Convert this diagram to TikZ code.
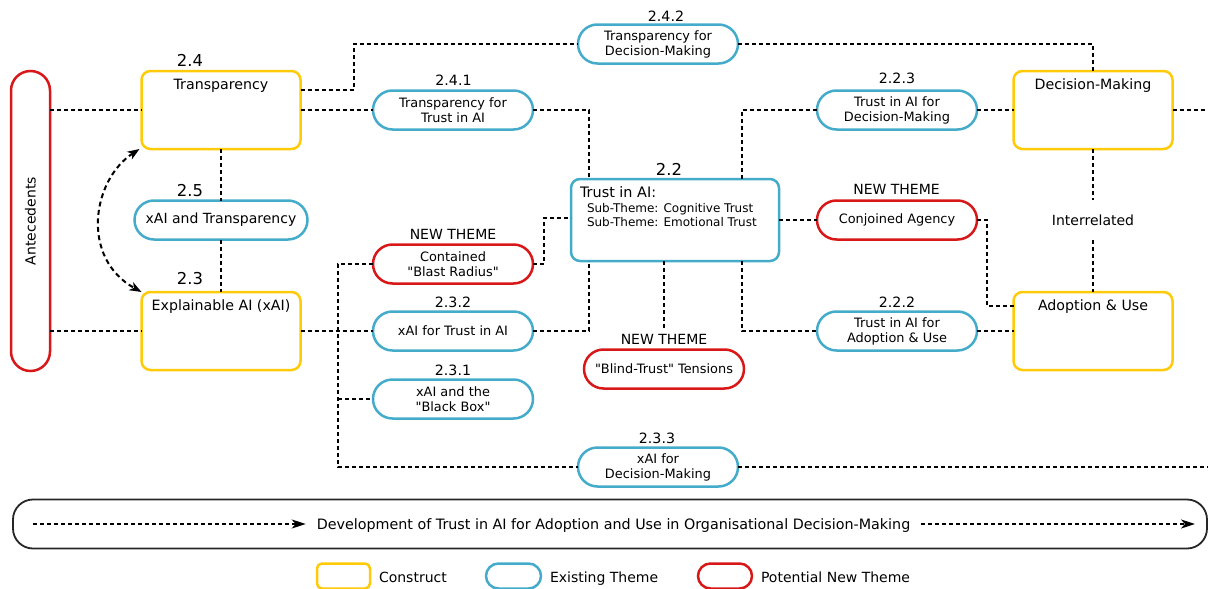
\documentclass[tikz,border=0pt]{standalone}
\usepackage{fontspec}
\setmainfont{DejaVu Sans}[Ligatures=TeXOff]
\usetikzlibrary{arrows.meta,calc}
\definecolor{cyellow}{RGB}{255,202,8}
\definecolor{cblue}{RGB}{68,172,202}
\definecolor{cred}{RGB}{216,24,24}
\begin{document}
\begin{tikzpicture}[x=1pt,y=-1pt,
  every node/.style={inner sep=0pt, outer sep=0pt},
  tag/.style={font=\fontsize{14}{16.8}\selectfont},
  secnum/.style={font=\fontsize{16.4}{19}\selectfont},
  subnum/.style={font=\fontsize{14.2}{17}\selectfont},
  construct/.style={draw=cyellow, line width=2.5pt, rounded corners=9pt,
    minimum width=159pt, minimum height=78pt},
  ctitle/.style={anchor=base, yshift=-18.5pt, font=\fontsize{14.2}{17}\selectfont},
  pill/.style={line width=2.5pt, rounded corners=19.5pt, minimum width=160pt,
    minimum height=39pt, align=center, font=\fontsize{12.9}{15}\selectfont},
  theme/.style={pill, draw=cblue},
  newtheme/.style={pill, draw=cred},
  subtxt/.style={anchor=base west, xshift=16pt, font=\fontsize{12}{14}\selectfont},
  legtxt/.style={anchor=base west, xshift=9pt, yshift=-6.7pt, tag},
  link/.style={line width=2pt, dash pattern=on 4pt off 3pt},
  tip/.style={-{Stealth[length=14pt,width=9pt,inset=4pt]}},
]
\useasboundingbox (0,0) rectangle (1208,589);

% constructs
\node[draw=cred, line width=2.5pt, rounded corners=19.5pt, minimum width=39pt,
  minimum height=300pt, label={[rotate=90, tag]center:Antecedents}] (ante) at (30.5,221) {};
\node[construct, label={[ctitle]north:Transparency}] (trans) at (221,110) {};
\node[construct, label={[ctitle]north:{Explainable AI (xAI)}}] (xai) at (221,331) {};
\node[construct, label={[ctitle]north:Decision-Making}] (dm) at (1093,110) {};
\node[construct, label={[ctitle]north:{Adoption \& Use}}] (adopt) at (1093,331) {};

% central theme
\node[draw=cblue, line width=2.5pt, rounded corners=9pt, minimum width=208pt, minimum height=82pt,
  label={[anchor=base west, xshift=9pt, yshift=-18pt, font=\fontsize{14.4}{17}\selectfont]north west:{Trust in AI:}},
  label={[subtxt, yshift=-33pt]north west:{Sub-Theme: Cognitive Trust}},
  label={[subtxt, yshift=-47pt]north west:{Sub-Theme: Emotional Trust}}] (trust) at (675,220) {};

% themes
\node[theme, minimum width=173pt, font=\fontsize{14}{16.8}\selectfont] (p25) at (221,220) {xAI and Transparency};
\node[theme] (p241) at (453,110) {Transparency for\\Trust in AI};
\node[theme] (p242) at (658,44) {Transparency for\\Decision-Making};
\node[theme] (p223) at (897,110) {Trust in AI for\\Decision-Making};
\node[newtheme] (conj) at (897,220) {Conjoined Agency};
\node[theme] (p222) at (897,331) {Trust in AI for\\Adoption \& Use};
\node[newtheme] (blast) at (453,264) {Contained\\"Blast Radius"};
\node[theme] (p232) at (453,331) {xAI for Trust in AI};
\node[theme] (p231) at (453,399) {xAI and the\\"Black Box"};
\node[newtheme] (blind) at (664,369) {"Blind-Trust" Tensions};
\node[theme] (p233) at (658,467) {xAI for\\Decision-Making};

% section numbers and tags
\node[secnum] (n24) at (190,60) {2.4};
\node[secnum] (n25) at (190,190.5) {2.5};
\node[secnum] (n23) at (190,278.5) {2.3};
\node[secnum] (n22) at (669,169) {2.2};
\node[subnum] (n242) at (666,16) {2.4.2};
\node[subnum] (n241) at (453.5,80) {2.4.1};
\node[subnum] (n223) at (897,78.5) {2.2.3};
\node[subnum] (n222) at (897,302) {2.2.2};
\node[subnum] (n232) at (453,302) {2.3.2};
\node[subnum] (n231) at (453,370) {2.3.1};
\node[subnum] (n233) at (657,438) {2.3.3};
\node[tag] (nconj) at (896.5,189.5) {NEW THEME};
\node[tag] (nblast) at (453,234.5) {NEW THEME};
\node[tag, inner ysep=5pt] (nblind) at (664,339.5) {NEW THEME};
\node[tag, inner ysep=15pt] (ninter) at (1093,220) {Interrelated};

% free ends at the right edge
\coordinate (eR1) at (1208,110);
\coordinate (eR2) at (1208,467);

% connectors
\draw[link] (ante.east |- trans.west) -- (trans.west);
\draw[link] (ante.east |- xai.west) -- (xai.west);
\draw[link] ([yshift=20pt]trans.east) -- ++(53,0) |- (p242.west);
\draw[link] (p242.east) -| (dm.north);
\draw[link] (trans.east |- p241.west) -- (p241.west);
\draw[link] (p241.east) -| ($(trust.north west)+(18,0)$);
\draw[link] ($(trust.north west)+(171,0)$) |- (p223.west);
\draw[link] (p223.east) -- (dm.west |- p223.east);
\draw[link] (dm.east |- eR1) -- (eR1);
\draw[link] (dm.south) -- (ninter.north);
\draw[link] (ninter.south) -- (adopt.north);
\draw[link] (trust.east |- conj.west) -- (conj.west);
\draw[link] (conj.east) -- ++(10,0) |- ([yshift=25pt]adopt.west);
\draw[link] ($(trust.south west)+(171,0)$) |- (p222.west);
\draw[link] (p222.east) -- (adopt.west |- p222.east);
\draw[link] (trust.south -| nblind.north) -- (nblind.north);
\draw[link] (blast.east) -- ++(11,0) |- ([yshift=2pt]trust.west);
\draw[link] (p232.east) -| ($(trust.south west)+(18,0)$);
\draw[link] (xai.east) -- (p232.west);
\coordinate (jx) at ($(xai.east)+(37.5,0)$);
\draw[link] (blast.west) -| (jx) |- (p233.west);
\draw[link] (jx |- p231.west) -- (p231.west);
\draw[link] (p233.east) -- (eR2);
\draw[link] (trans.south) -- (p25.north);
\draw[link] (p25.south) -- (xai.north);
\draw[link, dash pattern=on 5pt off 3.5pt, {Stealth[length=12pt,width=9pt,inset=3.5pt]}-{Stealth[length=12pt,width=9pt,inset=3.5pt]}]
  ([xshift=-2pt]trans.south west) .. controls (92,180) and (80,258) .. (xai.north west);

% development banner
\node[draw=black!85, line width=1.8pt, rounded corners=20pt, minimum width=1194pt,
  minimum height=49pt] (banner) at (610,524) {};
\node[anchor=base, font=\fontsize{14.3}{17}\selectfont] (btext) at (613.5,529.5)
  {Development of Trust in AI for Adoption and Use in Organisational Decision-Making};
\draw[link, tip] ([xshift=20pt]banner.west) -- ([xshift=-11pt]btext.west |- banner.west);
\draw[link, tip] ([xshift=11pt]btext.east |- banner.east) -- ([xshift=-12pt]banner.east);

% legend
\node[draw=cyellow, line width=2.5pt, rounded corners=5pt, minimum width=53pt,
  minimum height=25pt, label={[legtxt]east:Construct}] (lc) at (343.5,576) {};
\node[draw=cblue, line width=2.5pt, rounded corners=12.5pt, minimum width=55pt,
  minimum height=25pt, label={[legtxt]east:Existing Theme}] (lb) at (513.5,576) {};
\node[draw=cred, line width=2.5pt, rounded corners=12.5pt, minimum width=54pt,
  minimum height=25pt, label={[legtxt]east:Potential New Theme}] (lr) at (725,576) {};
\end{tikzpicture}
\end{document}
